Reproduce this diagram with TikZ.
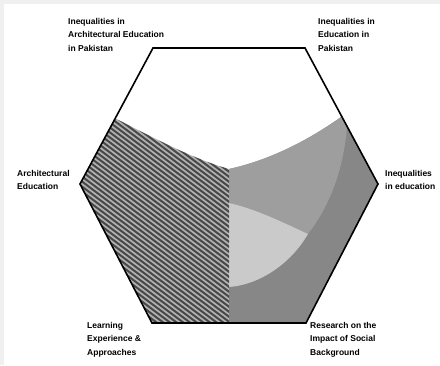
\documentclass[tikz,border=0pt]{standalone}
\usepackage{fontspec}
\setmainfont{Liberation Sans}
\usepackage{tikz}
\definecolor{bandgray}{HTML}{878787}
\definecolor{midgray}{HTML}{9E9E9E}
\definecolor{wedgegray}{HTML}{CACACA}
\definecolor{hatchbase}{HTML}{B2B2B2}
\definecolor{hatchline}{HTML}{474747}
\tikzset{
  label/.style={anchor=north west, align=left, inner sep=0pt, font=\bfseries\fontsize{8.5}{13.5}\selectfont},
  outline/.style={draw=black, line width=1.6pt, line join=miter},
  stripe/.style={draw=hatchline, line width=2pt}
}

\begin{document}
\begin{tikzpicture}[x=1pt, y=-1pt]
  \useasboundingbox (0,0) rectangle (440,365);
  \fill[gray!12] (0,0) rectangle (440,4);
  \fill[gray!12] (0,0) rectangle (4,365);

  % corners of the hexagon
  \coordinate (tl) at (153,48);
  \coordinate (tr) at (305,48);
  \coordinate (r) at (378,184);
  \coordinate (br) at (306,323);
  \coordinate (bl) at (152,323);
  \coordinate (l) at (80,184);
  \coordinate (mid) at (229,169);

  \begin{scope}
    \clip (tl) -- (tr) -- (r) -- (br) -- (bl) -- (l) -- cycle;
    % right half
    \fill[bandgray] (mid) .. controls (270,160) and (310,140) .. (348,112)
      -- (400,112) -- (400,340) -- (229,340) -- cycle;
    \fill[midgray] (mid) .. controls (270,160) and (310,140) .. (348,112)
      .. controls (346,160) and (334,200) .. (308,234)
      .. controls (282,222) and (256,209) .. (229,203) -- cycle;
    \fill[wedgegray] (229,203) .. controls (256,209) and (282,222) .. (308,234)
      .. controls (290,265) and (258,285) .. (229,287) -- cycle;
    % left half, hatched
    \begin{scope}
      \clip (95,108) .. controls (150,136) and (190,158) .. (mid)
        -- (229,340) -- (60,340) -- (60,108) -- cycle;
      \fill[hatchbase] (60,100) rectangle (229,340);
      \foreach \k in {0,...,52}
        \draw[stripe] (60,30+5*\k) -- ++(200,150);
    \end{scope}
  \end{scope}
  \draw[outline] (tl) -- (tr) -- (r) -- (br) -- (bl) -- (l) -- cycle;

  \node[label] (archpk) at (68,18) {Inequalities in\\Architectural Education\\in Pakistan};
  \node[label] (edupk) at (318,18) {Inequalities in\\Education in\\Pakistan};
  \node[label] (arched) at (17,170) {Architectural\\Education};
  \node[label] (ineqed) at (385,170) {Inequalities\\in education};
  \node[label] (learn) at (87,322) {Learning\\Experience \&\\Approaches};
  \node[label] (social) at (310,322) {Research on the\\Impact of Social\\Background};
\end{tikzpicture}
\end{document}
